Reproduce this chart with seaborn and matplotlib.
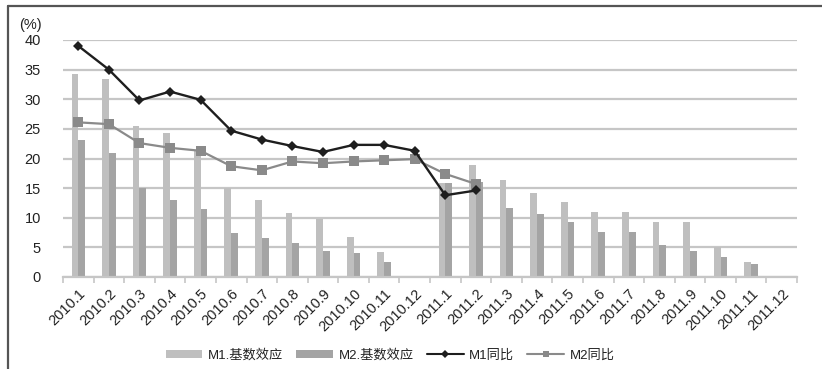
import numpy as np
import pandas as pd
import matplotlib
matplotlib.use("Agg")
import matplotlib.pyplot as plt
import seaborn as sns
from matplotlib.lines import Line2D
from matplotlib.patches import Patch

months = ["2010.1", "2010.2", "2010.3", "2010.4", "2010.5", "2010.6", "2010.7", "2010.8",
          "2010.9", "2010.10", "2010.11", "2010.12", "2011.1", "2011.2", "2011.3", "2011.4",
          "2011.5", "2011.6", "2011.7", "2011.8", "2011.9", "2011.10", "2011.11", "2011.12"]

m1_base = [34.3, 33.5, 25.5, 24.3, 21.3, 15.0, 13.0, 10.8, 9.8, 6.7, 4.3, 0.0,
           15.9, 18.9, 16.3, 14.2, 12.7, 11.0, 11.0, 9.2, 9.2, 5.0, 2.6, 0.0]
m2_base = [23.1, 21.0, 15.0, 13.0, 11.5, 7.5, 6.5, 5.8, 4.4, 4.1, 2.6, 0.0,
           15.8, 16.0, 11.7, 10.7, 9.2, 7.6, 7.6, 5.4, 4.4, 3.4, 2.2, 0.0]
m1_yoy = [39.0, 35.0, 29.8, 31.3, 29.9, 24.7, 23.2, 22.1, 21.1, 22.3, 22.3, 21.3,
          13.8, 14.6]
m2_yoy = [26.1, 25.8, 22.6, 21.8, 21.3, 18.7, 18.0, 19.5, 19.2, 19.5, 19.7, 19.9,
          17.4, 15.7]

labels_bar = ["M1.基数效应", "M2.基数效应"]
labels_line = ["M1同比", "M2同比"]

sns.set_theme(style="white")
plt.rcParams["font.family"] = ["Liberation Sans", "Noto Sans CJK SC", "DejaVu Sans"]

c_m1bar = "#bfbfbf"
c_m2bar = "#a4a4a4"
c_m1line = "#1e1e1e"
c_m2line = "#8a8a8a"
c_grid = "#c6c6c6"

fig = plt.figure(figsize=(8.22, 3.69), dpi=100)
ax = fig.add_axes([63 / 822, 1 - 277 / 369, (797 - 63) / 822, (277 - 40) / 369])

bars = pd.DataFrame({
    "month": months * 2,
    "value": m1_base + m2_base,
    "series": [labels_bar[0]] * len(months) + [labels_bar[1]] * len(months),
})
sns.barplot(data=bars, x="month", y="value", hue="series", order=months,
            palette=[c_m1bar, c_m2bar], width=0.44, linewidth=0,
            ax=ax, legend=False, zorder=2)

idx1 = np.arange(len(m1_yoy))
idx2 = np.arange(len(m2_yoy))
sns.lineplot(x=idx2, y=m2_yoy, ax=ax, color=c_m2line, lw=1.6, marker="s",
             markersize=6.5, markeredgewidth=0, legend=False, zorder=3)
sns.lineplot(x=idx1, y=m1_yoy, ax=ax, color=c_m1line, lw=1.7, marker="D",
             markersize=5.5, markeredgewidth=0, legend=False, zorder=4)

ax.set_xlim(-0.5, len(months) - 0.5)
ax.set_ylim(0, 40)
ax.set_yticks(np.arange(0, 41, 5))
ax.yaxis.grid(True, color=c_grid, lw=1.6, zorder=0)
ax.set_axisbelow(True)
for s in ["top", "right", "left"]:
    ax.spines[s].set_visible(False)
ax.spines["bottom"].set_color(c_grid)
ax.spines["bottom"].set_linewidth(1.6)

ax.set_xticks(np.arange(len(months)))
ax.set_xticklabels(months, rotation=45, ha="right", rotation_mode="anchor",
                   fontsize=10.5, color="#222222")
ax.set_xticks(np.arange(-0.5, len(months)), minor=True)
ax.tick_params(axis="x", which="major", length=0, pad=7)
ax.tick_params(axis="x", which="minor", length=4, width=1.2, color=c_grid,
               direction="out", bottom=True)
ax.tick_params(axis="y", length=0, labelsize=10.5, labelcolor="#222222", pad=16)
ax.set_xlabel("")
ax.set_ylabel("")
ax.text(-0.045, 1.035, "(%)", transform=ax.transAxes, fontsize=10.5,
        color="#222222", ha="center", va="bottom")

handles = [
    Patch(facecolor=c_m1bar, edgecolor="none"),
    Patch(facecolor=c_m2bar, edgecolor="none"),
    Line2D([], [], color=c_m1line, lw=1.5, marker="D", markersize=4, markeredgewidth=0),
    Line2D([], [], color=c_m2line, lw=1.5, marker="s", markersize=5, markeredgewidth=0),
]
fig.legend(handles, labels_bar + labels_line, loc="center", ncol=4,
           bbox_to_anchor=(390 / 822, 1 - 355 / 369), frameon=False,
           fontsize=9.5, handlelength=2.8, handleheight=0.6, columnspacing=1.0,
           handletextpad=0.4, labelcolor="#222222")

# outer frame along top and left edges
fig.add_artist(Line2D([8 / 822, 8 / 822], [0, 1 - 6 / 369], transform=fig.transFigure,
                      color="#555555", lw=1.6))
fig.add_artist(Line2D([8 / 822, 1], [1 - 6 / 369, 1 - 6 / 369], transform=fig.transFigure,
                      color="#555555", lw=1.6))

fig.savefig("out.png", dpi=100)
